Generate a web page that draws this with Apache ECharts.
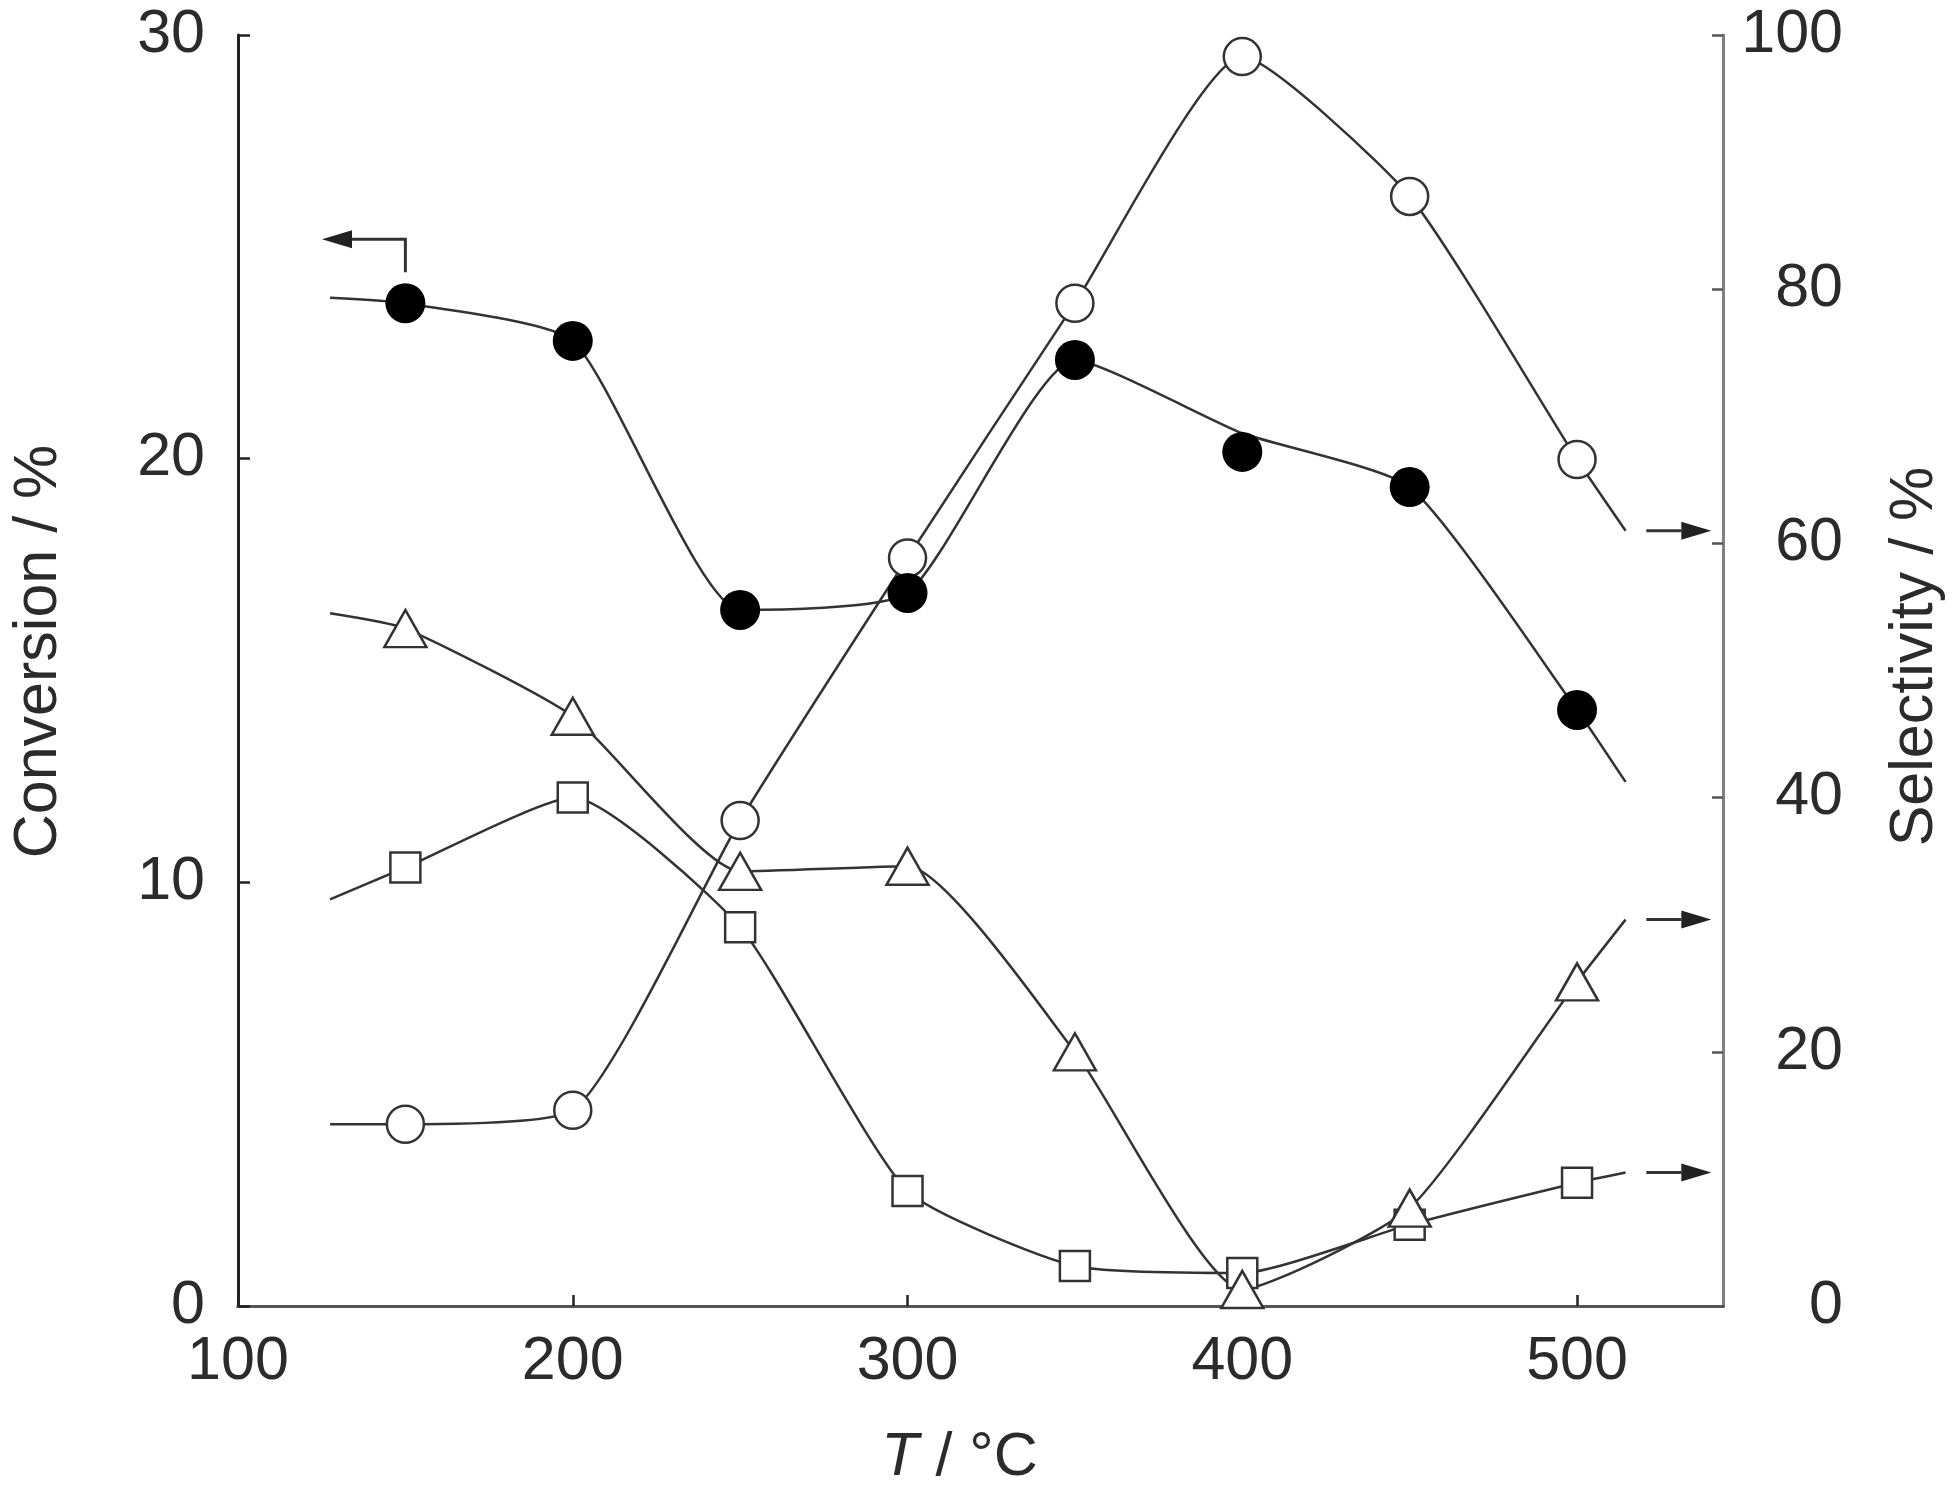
<!DOCTYPE html>
<html>
<head>
<meta charset="utf-8">
<script src="https://cdn.jsdelivr.net/npm/echarts@6/dist/echarts.min.js"></script>
<style>
  html, body { margin: 0; padding: 0; background: #fff; }
  #chart { width: 1959px; height: 1498px; }
</style>
</head>
<body>
<div id="chart"></div>
<script>
// measured temperatures
var temps = [150, 200, 250, 300, 350, 400, 450, 500];
// conversion (left axis, filled circles)
var conversion = [23.67, 22.78, 16.43, 16.83, 22.33, 20.16, 19.33, 14.07];
// selectivities (right axis)
var selCircle = [14.3, 15.4, 38.2, 58.85, 78.9, 98.3, 87.3, 66.6];
var selTriangle = [53.3, 46.4, 34.2, 34.6, 20.0, 1.3, 7.7, 25.5];
var selSquare = [34.5, 40.0, 29.8, 9.05, 3.15, 2.6, 6.4, 9.7];

// guide curves drawn through / near the points
var curveT = [127.5, 150, 200, 250, 300, 350, 400, 450, 500, 514.5];
var convCurve = [23.8, 23.67, 22.78, 16.43, 16.83, 22.33, 20.6, 19.33, 14.07, 12.37];
var circleCurve = [14.3, 14.3, 15.4, 38.2, 58.85, 78.9, 98.3, 87.3, 66.6, 61.0];
var triangleCurve = [54.5, 53.3, 46.4, 34.2, 34.6, 20.0, 1.3, 7.7, 25.5, 30.4];
var squareCurve = [32.0, 34.5, 40.0, 29.8, 9.05, 3.15, 2.6, 6.4, 9.7, 10.5];

// axis ticks
var xTicks = { min: 100, max: 543.6, interval: 100 };
var convTicks = { min: 0, max: 30, interval: 10 };
var selTicks = { min: 0, max: 100, interval: 20 };

// arrows telling which axis a curve belongs to
var leftArrow = [[150, 24.4], [150, 25.18], [125.1, 25.18]];
var rightArrowX = [520.7, 540.1];
var rightArrowY = [circleCurve[9], triangleCurve[9], squareCurve[9]];

var FONT = 'Liberation Sans';
var INK = '#2b2b2b';

function zip(xs, ys) {
  return xs.map(function (x, i) { return [x, ys[i]]; });
}

var chart = echarts.init(document.getElementById('chart'));

function curve(data, yIdx) {
  return {
    type: 'line', xAxisIndex: 0, yAxisIndex: yIdx, data: data,
    showSymbol: false, smooth: 0.18, silent: true, z: 2,
    lineStyle: { color: '#333', width: 2.5 }
  };
}
function markers(data, yIdx, symbol, size, fill) {
  return {
    type: 'scatter', xAxisIndex: 0, yAxisIndex: yIdx, data: data,
    symbol: symbol, symbolSize: size, silent: true, z: 3,
    itemStyle: { color: fill, borderColor: '#333', borderWidth: fill === '#000' ? 0 : 2.5, opacity: 1 }
  };
}

var option = {
  animation: false,
  grid: { left: 238, right: 236, top: 35, bottom: 192 },
  xAxis: [{
    type: 'value', min: xTicks.min, max: xTicks.max, interval: xTicks.interval,
    name: '{i|T} / °C', nameLocation: 'middle', nameGap: 122,
    nameTextStyle: {
      fontFamily: FONT, fontSize: 61, color: INK, padding: [0, 42, 0, 0],
      rich: { i: { fontFamily: FONT, fontSize: 61, fontStyle: 'italic', color: INK } }
    },
    axisLine: { lineStyle: { color: '#222', width: 3 } },
    axisTick: { inside: true, length: 11, lineStyle: { color: '#222', width: 2.5 } },
    axisLabel: {
      fontFamily: FONT, fontSize: 61, color: INK, margin: 26, showMaxLabel: false,
      formatter: function (v) { return v % 100 === 0 ? String(v) : ''; }
    },
    splitLine: { show: false }
  }, {
    type: 'value', position: 'top', min: xTicks.min, max: xTicks.max,
    axisLine: { show: true, lineStyle: { color: '#555', width: 3 } },
    axisTick: { show: false }, axisLabel: { show: false }, splitLine: { show: false }
  }],
  yAxis: [{
    type: 'value', min: convTicks.min, max: convTicks.max, interval: convTicks.interval,
    name: 'Conversion / %', nameLocation: 'middle', nameRotate: 90, nameGap: 168,
    nameTextStyle: { fontFamily: FONT, fontSize: 61, color: INK, padding: [0, 0, 0, 38] },
    axisLine: { show: true, lineStyle: { color: '#222', width: 3 } },
    axisTick: { show: true, inside: true, length: 12, lineStyle: { color: '#222', width: 2.5 } },
    axisLabel: { fontFamily: FONT, fontSize: 61, color: INK, margin: 33 },
    splitLine: { show: false }
  }, {
    type: 'value', position: 'right', min: selTicks.min, max: selTicks.max, interval: selTicks.interval,
    name: 'Selectivity / %', nameLocation: 'middle', nameRotate: 90, nameGap: 162,
    nameTextStyle: { fontFamily: FONT, fontSize: 61, color: INK, padding: [0, 0, 0, 28] },
    axisLine: { show: true, lineStyle: { color: '#808080', width: 3 } },
    axisTick: { show: true, inside: true, length: 11, lineStyle: { color: '#555', width: 2.5 } },
    axisLabel: { fontFamily: FONT, fontSize: 61, color: INK, margin: 120, align: 'right' },
    splitLine: { show: false }
  }],
  series: [
    curve(zip(curveT, convCurve), 0),
    curve(zip(curveT, circleCurve), 1),
    curve(zip(curveT, triangleCurve), 1),
    curve(zip(curveT, squareCurve), 1),
    markers(zip(temps, selSquare), 1, 'rect', 30, '#fff'),
    markers(zip(temps, selTriangle), 1, 'triangle', [42, 37], '#fff'),
    markers(zip(temps, selCircle), 1, 'circle', 37, '#fff'),
    markers(zip(temps, conversion), 0, 'circle', 40, '#000')
  ]
};
chart.setOption(option);

// arrows, placed through the axes
function px(pt, yIdx) {
  return chart.convertToPixel({ xAxisIndex: 0, yAxisIndex: yIdx }, pt);
}
function arrow(points, yIdx) {
  var p = points.map(function (q) { return px(q, yIdx); });
  var a = p[p.length - 2], b = p[p.length - 1];
  var dx = b[0] - a[0], dy = b[1] - a[1], len = Math.sqrt(dx * dx + dy * dy);
  var ux = dx / len, uy = dy / len, L = 30, W = 9;
  var base = [b[0] - ux * L, b[1] - uy * L];
  var line = p.slice(0, p.length - 1).concat([base]);
  return [{
    type: 'polyline', silent: true, z: 10,
    shape: { points: line },
    style: { stroke: '#333', lineWidth: 3, fill: null }
  }, {
    type: 'polygon', silent: true, z: 10,
    shape: { points: [b, [base[0] - uy * W, base[1] + ux * W], [base[0] + uy * W, base[1] - ux * W]] },
    style: { fill: '#222' }
  }];
}
var elems = arrow(leftArrow, 0);
rightArrowY.forEach(function (y) {
  elems = elems.concat(arrow([[rightArrowX[0], y], [rightArrowX[1], y]], 1));
});
chart.setOption({ graphic: elems });
</script>
</body>
</html>
